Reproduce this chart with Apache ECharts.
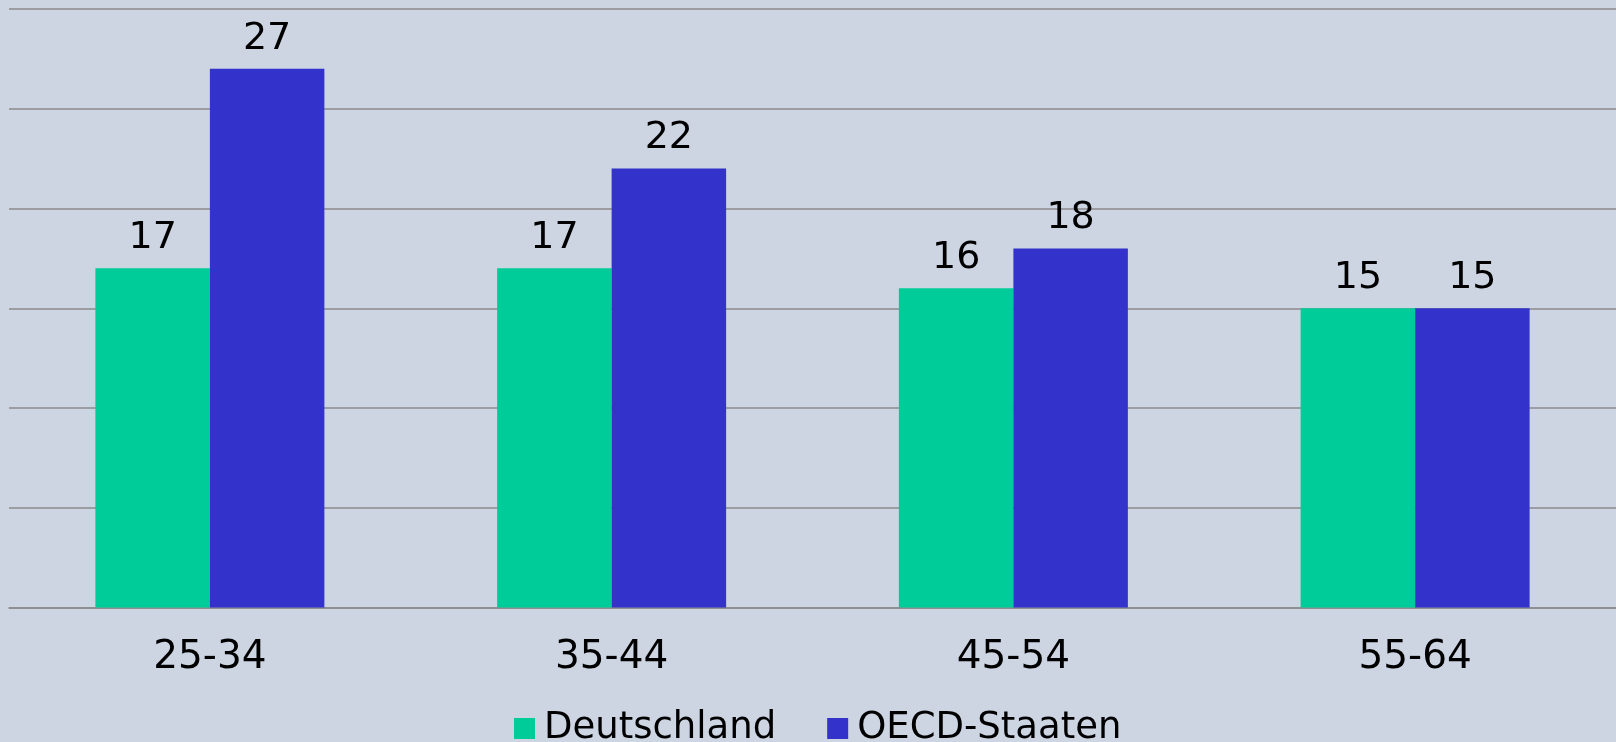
<!DOCTYPE html>
<html>
<head>
<meta charset="utf-8">
<script src="https://cdn.jsdelivr.net/npm/echarts@6/dist/echarts.min.js"></script>
<style>
  html, body { margin: 0; padding: 0; background: #CDD5E3; }
  #chart { width: 1616px; height: 742px; }
</style>
</head>
<body>
<div id="chart"></div>
<script>
// Altersgruppen
const categories = ['25-34', '35-44', '45-54', '55-64']
const deutschland = [17, 17, 16, 15]
const oecdStaaten = [27, 22, 18, 15]
const seriesNames = ['Deutschland', 'OECD-Staaten']

const font = 'DejaVu Sans'
const chart = echarts.init(document.getElementById('chart'))

const valueLabel = {
  show: true,
  position: 'top',
  distance: 11,
  color: '#000',
  fontFamily: font,
  fontSize: 38
}

chart.setOption({
  backgroundColor: '#CDD5E3',
  animation: false,
  grid: { left: 9, right: 0, top: 9, bottom: 134.5 },
  legend: {
    left: 514,
    top: 710,
    padding: 0,
    itemWidth: 21,
    itemHeight: 21,
    itemGap: 51,
    icon: 'rect',
    textStyle: { fontFamily: font, fontSize: 37, color: '#000', padding: [0, 0, 0, 4] },
    data: seriesNames
  },
  xAxis: {
    type: 'category',
    data: categories,
    axisLine: { lineStyle: { color: '#8a8a8a', width: 1.5 } },
    axisTick: { show: false },
    axisLabel: { color: '#000', fontFamily: font, fontSize: 39, margin: 31 }
  },
  yAxis: {
    type: 'value',
    min: 0,
    max: 30,
    interval: 5,
    axisLabel: { show: false },
    axisLine: { show: false },
    axisTick: { show: false },
    splitLine: { lineStyle: { color: '#8a8a8a', width: 1.5 } }
  },
  series: [
    {
      name: seriesNames[0],
      type: 'bar',
      data: deutschland,
      barWidth: '28.5%',
      barGap: 0,
      itemStyle: { color: '#00CC99' },
      label: valueLabel
    },
    {
      name: seriesNames[1],
      type: 'bar',
      data: oecdStaaten,
      barWidth: '28.5%',
      barGap: 0,
      itemStyle: { color: '#3333CC' },
      label: valueLabel
    }
  ]
})
</script>
</body>
</html>
